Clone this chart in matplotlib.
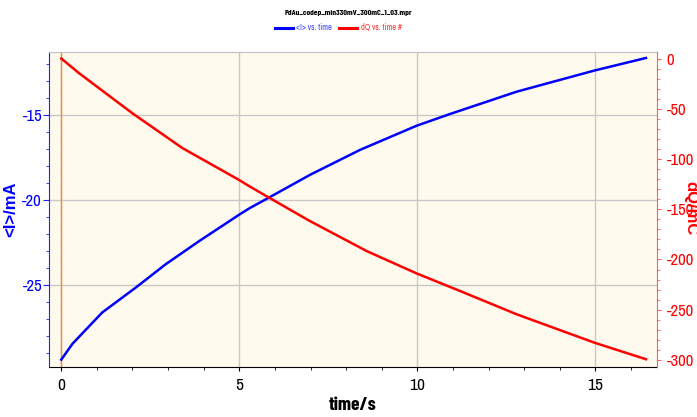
import matplotlib
matplotlib.use('Agg')
import matplotlib.pyplot as plt
from matplotlib.ticker import MultipleLocator
from matplotlib.lines import Line2D

## data
title = 'PdAu_codep_min330mV_300mC_1_03.mpr'
t_I = [0, 0.31, 0.59, 1.15, 2.09, 2.93, 3.87, 5.0, 5.3, 5.86, 6.99, 8.39, 9.98, 10.92, 12.79, 14.97, 16.42]
I_mA = [-29.37, -28.45, -27.83, -26.6, -25.14, -23.77, -22.41, -20.85, -20.46, -19.82, -18.51, -17.05,
        -15.63, -14.94, -13.63, -12.39, -11.65]
t_Q = [0, 0.5, 1.99, 3.40, 5.0, 5.3, 5.86, 6.99, 8.58, 9.98, 11.2, 12.79, 14.97, 16.42]
dQ_mC = [0, -14.6, -54.3, -89.1, -121, -127.5, -139, -161.9, -191.7, -213.9, -231.4, -254.6, -282.8, -299.3]

x_ticks = [0, 5, 10, 15]
I_ticks = [-15, -20, -25]
Q_ticks = [0, -50, -100, -150, -200, -250, -300]

narrow = ['Archivo Narrow', 'Liberation Sans', 'DejaVu Sans']
narrow_bold = ['Barlow Condensed', 'Liberation Sans', 'DejaVu Sans']
wide = ['Liberation Sans', 'DejaVu Sans']
plt.rcParams['font.family'] = narrow
plt.rcParams['axes.unicode_minus'] = False

fig = plt.figure(figsize=(6.97, 4.17), dpi=100)
ax = fig.add_axes([0.0703, 0.12, 0.8723, 0.7553])
ax.set_facecolor('#fffaee')

# grid + orange zero line
ax.set_xticks(x_ticks)
ax.set_yticks(I_ticks)
ax.grid(True, color='#c8c8c8', lw=1)
ax.axvline(0, color='#ff8c1a', lw=1, zorder=2)

ax.plot(t_I, I_mA, color='#0000ff', lw=1.8, zorder=3)
ax.set_xlim(-0.345, 16.73)
ax.set_ylim(-29.8, -11.3)

ax2 = ax.twinx()
ax2.plot(t_Q, dQ_mC, color='#ff0000', lw=1.8, zorder=3)
ax2.set_ylim(-307, 6.5)
ax2.set_yticks(Q_ticks)

# spines
ax.spines['left'].set_color('#2020ff')
ax.spines['bottom'].set_color('black')
ax.spines['top'].set_color('#c0c0c0')
ax.spines['right'].set_visible(False)
for s in ['left', 'bottom', 'top']:
    ax2.spines[s].set_visible(False)
ax2.spines['right'].set_color('#ff6060')

# ticks
ax.xaxis.set_minor_locator(MultipleLocator(1))
ax.yaxis.set_minor_locator(MultipleLocator(1))
ax2.yaxis.set_minor_locator(MultipleLocator(10))
ax.tick_params(axis='x', colors='black', labelsize=12.5, length=3, pad=5)
ax.tick_params(axis='x', which='minor', length=2)
ax.tick_params(axis='y', colors='#2020ff', labelcolor='#0000ff', labelsize=12, length=4, pad=1)
ax.tick_params(axis='y', which='minor', length=2, colors='#2020ff')
ax2.tick_params(axis='y', colors='#ff6060', labelcolor='#ff0000', labelsize=12, length=3, pad=4)
ax2.tick_params(axis='y', which='minor', length=2, colors='#ff6060')

# labels
ax.set_xlabel('time/s', fontsize=14, fontweight='bold', family=narrow_bold, labelpad=3)
ax.set_ylabel('<I>/mA', fontsize=12, fontweight='bold', color='#0000ff', family=wide, labelpad=3)
fig.text(0.991, 0.5, 'dQ/mC', fontsize=12, fontweight='bold', color='#ff0000', family=wide,
         rotation=-90, ha='center', va='center')

fig.text(0.5, 0.968, title, ha='center', va='center', fontsize=6, fontweight='bold', family=narrow_bold)
handles = [Line2D([], [], color='#0000ff', lw=2.2), Line2D([], [], color='#ff0000', lw=2.2)]
leg = fig.legend(handles, ['<I> vs. time', 'dQ vs. time #'], loc='center', bbox_to_anchor=(0.485, 0.933),
                 ncol=2, frameon=False, fontsize=6, handlelength=2.2, columnspacing=0.8, handletextpad=0.4)
leg.get_texts()[0].set_color('#4040ff')
leg.get_texts()[1].set_color('#ff3030')

fig.savefig('out.png', dpi=100)
